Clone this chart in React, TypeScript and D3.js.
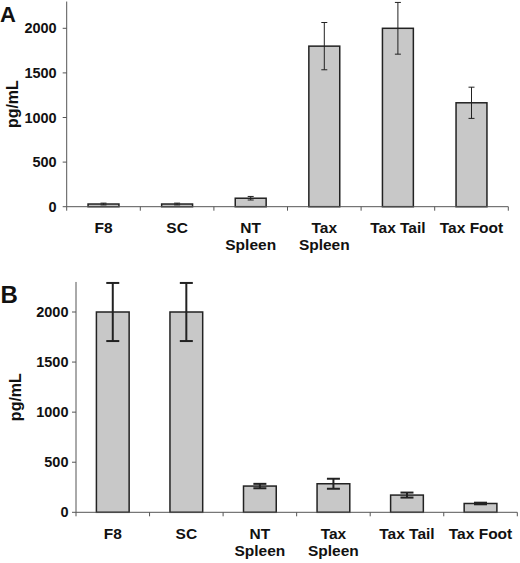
import React from "react";
import * as d3 from "d3";

const categories = ["F8", "SC", "NT\nSpleen", "Tax\nSpleen", "Tax Tail", "Tax Foot"];
const yTicks = [0, 500, 1000, 1500, 2000];

const valuesA = [30, 30, 95, 1800, 2000, 1165];
const errorsA = [10, 10, 20, 265, 290, 175];

const valuesB = [2000, 2000, 262, 285, 172, 88];
const errorsB = [290, 290, 22, 50, 25, 8];

type PanelProps = {
  label: string;
  values: number[];
  errors: number[];
  left: number;
  right: number;
  zeroY: number;
  y2000: number;
  barFrac: number;
  capW: number;
  errStroke: number;
  labelX: number;
  labelY: number;
  labelSize: number;
  ylabX: number;
  tickLabelGap: number;
};

function Panel(p: PanelProps) {
  const pad = 1 - p.barFrac;
  const x = d3
    .scaleBand<string>()
    .domain(categories)
    .range([p.left, p.right])
    .paddingInner(pad)
    .paddingOuter(pad / 2);
  const y = d3
    .scaleLinear()
    .domain([0, 2000])
    .range([p.zeroY, p.y2000]);
  const top = y(2300);
  const step = x.step();
  const bw = x.bandwidth();
  const font = "Liberation Sans, Arial, sans-serif";
  return (
    <g>
      <text x={p.labelX} y={p.labelY} fontFamily={font} fontWeight="bold" fontSize={p.labelSize} fill="#111">
        {p.label}
      </text>
      {/* y axis */}
      <line x1={p.left} x2={p.left} y1={top} y2={p.zeroY} stroke="#555" strokeWidth={1} />
      {yTicks.map((t) => (
        <g key={t}>
          <line x1={p.left - 4} x2={p.left} y1={y(t)} y2={y(t)} stroke="#555" strokeWidth={1} />
          <text
            x={p.left - p.tickLabelGap}
            y={y(t)}
            dy="0.35em"
            textAnchor="end"
            fontFamily={font}
            fontWeight="bold"
            fontSize={14.5}
            fill="#111"
          >
            {t}
          </text>
        </g>
      ))}
      <text
        transform={`translate(${p.ylabX},${(top + p.zeroY) / 2}) rotate(-90)`}
        textAnchor="middle"
        fontFamily={font}
        fontWeight="bold"
        fontSize={16}
        fill="#111"
      >
        pg/mL
      </text>
      {/* bars */}
      {categories.map((c, i) => {
        const bx = x(c) as number;
        const v = p.values[i];
        const e = p.errors[i];
        const cx = bx + bw / 2;
        return (
          <g key={c}>
            <rect
              x={bx}
              y={y(v)}
              width={bw}
              height={p.zeroY - y(v)}
              fill="#c8c8c8"
              stroke="#222"
              strokeWidth={1.5}
            />
            <line x1={cx} x2={cx} y1={y(v + e)} y2={y(v - e)} stroke="#222" strokeWidth={p.errStroke} />
            <line x1={cx - p.capW / 2} x2={cx + p.capW / 2} y1={y(v + e)} y2={y(v + e)} stroke="#222" strokeWidth={p.errStroke} />
            <line x1={cx - p.capW / 2} x2={cx + p.capW / 2} y1={y(v - e)} y2={y(v - e)} stroke="#222" strokeWidth={p.errStroke} />
          </g>
        );
      })}
      {/* x axis */}
      <line x1={p.left} x2={p.right} y1={p.zeroY} y2={p.zeroY} stroke="#555" strokeWidth={1} />
      {d3.range(categories.length + 1).map((i) => (
        <line
          key={i}
          x1={p.left + i * step}
          x2={p.left + i * step}
          y1={p.zeroY}
          y2={p.zeroY + 4}
          stroke="#555"
          strokeWidth={1}
        />
      ))}
      {categories.map((c) => {
        const cx = (x(c) as number) + bw / 2;
        const lines = c.split("\n");
        return (
          <text key={c} textAnchor="middle" fontFamily={font} fontWeight="bold" fontSize={15.5} fill="#111">
            {lines.map((l, j) => (
              <tspan key={j} x={cx} y={p.zeroY + 26.5 + j * 17}>
                {l}
              </tspan>
            ))}
          </text>
        );
      })}
    </g>
  );
}

export default function App() {
  return (
    <svg
      width={520}
      height={563}
      style={{ position: "absolute", left: 0, top: 0, background: "#fff" }}
    >
      <rect x={0} y={0} width={520} height={563} fill="#fff" />
      <Panel
        label="A"
        values={valuesA}
        errors={errorsA}
        left={66.7}
        right={508.3}
        zeroY={206.7}
        y2000={28.3}
        barFrac={0.42}
        capW={6}
        errStroke={1}
        labelX={0}
        labelY={21.5}
        labelSize={22}
        ylabX={18}
        tickLabelGap={10}
      />
      <Panel
        label="B"
        values={valuesB}
        errors={errorsB}
        left={76}
        right={517.3}
        zeroY={512.3}
        y2000={312}
        barFrac={0.445}
        capW={13}
        errStroke={2}
        labelX={0.5}
        labelY={302.5}
        labelSize={24}
        ylabX={21}
        tickLabelGap={7.5}
      />
    </svg>
  );
}
